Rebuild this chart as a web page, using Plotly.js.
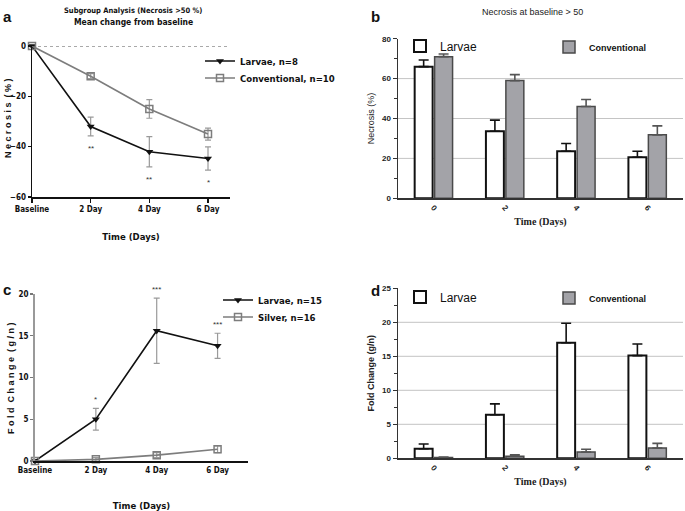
<!DOCTYPE html>
<html><head><meta charset="utf-8">
<script src="https://cdn.plot.ly/plotly-3.0.1.min.js"></script>
<style>html,body{margin:0;padding:0;background:#fff}#g{width:685px;height:511px}</style>
</head><body><div id="g"></div>
<script>
// ---- data ----
const daysA = ['Baseline','2 Day','4 Day','6 Day'];
const larvaeA = [0, -32, -42, -44.7];
const larvaeAErr = [0, 3.7, 6, 4.6];
const convA = [0, -12, -25, -35];
const convAErr = [0, 1, 3.7, 2.4];
const starsA = ['', '**', '**', '*'];

const daysB = ['0','2','4','6'];
const larvaeB = [66, 33.6, 23.6, 20.6];
const larvaeBErr = [3.3, 5.6, 3.9, 3];
const convB = [71, 59, 46, 31.8];
const convBErr = [1.3, 3, 3.5, 4.5];

const daysC = ['Baseline','2 Day','4 Day','6 Day'];
const larvaeC = [0, 5.0, 15.6, 13.8];
const larvaeCErr = [0, 1.3, 3.9, 1.5];
const silverC = [0, 0.2, 0.7, 1.4];
const silverCErr = [0, 0.2, 0.3, 0.4];
const starsC = ['', '*', '***', '***'];

const daysD = ['0','2','4','6'];
const larvaeD = [1.4, 6.4, 17.0, 15.1];
const larvaeDErr = [0.7, 1.6, 2.85, 1.7];
const convD = [0.1, 0.3, 0.93, 1.5];
const convDErr = [0.1, 0.2, 0.4, 0.7];

// ---- helpers ----
const W = 685, H = 511;
const px = v => v / W;
const py = v => 1 - v / H;
const NARROW = '"Liberation Sans Narrow", "DejaVu Sans Condensed", "Arial Narrow", sans-serif';
const SANS = '"Liberation Sans", Arial, sans-serif';
const SERIF = '"Liberation Serif", "Times New Roman", serif';
const zeros = n => new Array(n).fill(0);

const errLine = (arr) => ({type:'data', array:arr, visible:true, color:'#9a9a9a', thickness:1.2, width:3});
const errUp = (arr, col) => ({type:'data', symmetric:false, array:arr, arrayminus:zeros(arr.length), visible:true, color:col, thickness:1.6, width:5});

const traces = [
  // panel a
  {x: daysA, y: larvaeA, error_y: errLine(larvaeAErr), type:'scatter', mode:'lines+markers', name:'Larvae, n=8',
   line:{color:'#111', width:1.6}, marker:{symbol:'triangle-down', size:7, color:'#111'}, cliponaxis:false,
   xaxis:'x', yaxis:'y', legend:'legend', showlegend:true},
  {x: daysA, y: convA, error_y: errLine(convAErr), type:'scatter', mode:'lines+markers', name:'Conventional, n=10',
   line:{color:'#7d7d7d', width:1.6}, marker:{symbol:'square-open', size:7, color:'#7d7d7d', line:{width:1.5}}, cliponaxis:false,
   xaxis:'x', yaxis:'y', legend:'legend2', showlegend:true},
  // panel b
  {x: daysB, y: larvaeB, error_y: errUp(larvaeBErr, '#111'), type:'bar', name:'Larvae',
   marker:{color:'#fff', line:{color:'#111', width:2}}, xaxis:'x2', yaxis:'y2', legend:'legend3', showlegend:true},
  {x: daysB, y: convB, error_y: errUp(convBErr, '#555'), type:'bar', name:'Conventional',
   marker:{color:'#a3a3a8', line:{color:'#4a4a4a', width:1.5}}, xaxis:'x2', yaxis:'y2', legend:'legend4', showlegend:true},
  // panel c
  {x: daysC, y: larvaeC, error_y: errLine(larvaeCErr), type:'scatter', mode:'lines+markers', name:'Larvae, n=15',
   line:{color:'#111', width:1.6}, marker:{symbol:'triangle-down', size:7, color:'#111'}, cliponaxis:false,
   xaxis:'x3', yaxis:'y3', legend:'legend5', showlegend:true},
  {x: daysC, y: silverC, error_y: errLine(silverCErr), type:'scatter', mode:'lines+markers', name:'Silver, n=16',
   line:{color:'#7d7d7d', width:1.6}, marker:{symbol:'square-open', size:7, color:'#7d7d7d', line:{width:1.5}}, cliponaxis:false,
   xaxis:'x3', yaxis:'y3', legend:'legend6', showlegend:true},
  // panel d
  {x: daysD, y: larvaeD, error_y: errUp(larvaeDErr, '#111'), type:'bar', name:'Larvae',
   marker:{color:'#fff', line:{color:'#111', width:2}}, xaxis:'x4', yaxis:'y4', legend:'legend7', showlegend:true},
  {x: daysD, y: convD, error_y: errUp(convDErr, '#555'), type:'bar', name:'Conventional',
   marker:{color:'#a3a3a8', line:{color:'#4a4a4a', width:1.5}}, xaxis:'x4', yaxis:'y4', legend:'legend8', showlegend:true}
];

const tfA = {family: NARROW, size: 8, color:'#111', weight: 'bold'};
const tfB = {family: SANS, size: 8, color:'#222', weight: 'bold'};

const lineAx = (extra) => Object.assign({showline:true, linecolor:'#111', linewidth:1.5, ticks:'outside', ticklen:4, tickwidth:1.2,
  tickcolor:'#111', showgrid:false, zeroline:false, fixedrange:true}, extra);

const legBase = (x, y, size, fam, weight) => ({x:px(x), y:py(y), xanchor:'left', yanchor:'middle', bgcolor:'rgba(0,0,0,0)',
  borderwidth:0, font:{family:fam, size:size, color:'#111', weight:weight}, itemwidth:30, visible:true});

const pAnn = (text, x, y, font, extra) => Object.assign({text, x:px(x), y:py(y), xref:'paper', yref:'paper', showarrow:false,
  xanchor:'center', yanchor:'middle', font}, extra || {});
const annotations = [
  pAnn('<b>a</b>', 7, 17, {family:SANS, size:15, color:'#111'}),
  pAnn('<b>b</b>', 375, 17, {family:SANS, size:15, color:'#111'}),
  pAnn('<b>c</b>', 7, 289, {family:SANS, size:15, color:'#111'}),
  pAnn('<b>d</b>', 375, 290, {family:SANS, size:15, color:'#111'}),
  pAnn('Subgroup Analysis (Necrosis >50 %)', 133, 10, {family:NARROW, size:7.5, color:'#111', weight:'bold'}),
  pAnn('Mean change from baseline', 133, 22, {family:NARROW, size:8.5, color:'#111', weight:'bold'}),
  pAnn('Necrosis at baseline > 50', 532, 12, {family:SANS, size:9, color:'#222'}),
  pAnn('N e c r o s i s  ( % )', 8, 118, {family:SANS, size:9, color:'#111', weight:'bold'}, {textangle:-90}),
  pAnn('F o l d  C h a n g e  ( g / n )', 11, 378, {family:SANS, size:9, color:'#111', weight:'bold'}, {textangle:-90})
];
daysA.forEach((d, i) => { if (starsA[i]) annotations.push({text:starsA[i], x:d, y:larvaeA[i]-larvaeAErr[i]-2.5, xref:'x', yref:'y',
  yanchor:'top', showarrow:false, font:{family:SANS, size:8, color:'#333'}}); });
daysC.forEach((d, i) => { if (starsC[i]) annotations.push({text:starsC[i], x:d, y:larvaeC[i]+larvaeCErr[i]+0.3, xref:'x3', yref:'y3',
  yanchor:'bottom', showarrow:false, font:{family:SANS, size:8, color:'#333'}}); });

const gridShape = (yr, xr, v) => ({type:'line', xref:xr + ' domain', yref:yr, x0:0, x1:1, y0:v, y1:v, line:{color:'#c4c4c4', width:1}, layer:'below'});
const shapes = [
  {type:'line', xref:'x domain', yref:'y', x0:0, x1:1, y0:0, y1:0, line:{color:'#555', width:1, dash:'dot'}},
  ...[20,40,60].map(v => gridShape('y2','x2',v)),
  ...[5,10,15,20].map(v => gridShape('y4','x4',v))
];

const layout = {
  width: W, height: H, margin:{l:0, r:0, t:0, b:0}, paper_bgcolor:'#fff', plot_bgcolor:'rgba(0,0,0,0)',
  showlegend: true,
  barmode:'group', bargap:0.44, bargroupgap:0.1,
  xaxis: lineAx({domain:[px(32), px(230)], type:'category', categoryorder:'array', categoryarray:daysA, range:[0, 3.375],
    tickfont:tfA, title:{text:'Time (Days)', font:{family:NARROW, size:9.5, color:'#111', weight:'bold'}, standoff:20}, anchor:'y'}),
  yaxis: lineAx({domain:[py(197), py(46)], range:[-60, 0], tickvals:[-60,-40,-20,0], tickfont:tfA, ticklen:3, anchor:'x'}),
  xaxis2: lineAx({domain:[px(398), px(683)], type:'category', categoryorder:'array', categoryarray:daysB, range:[-0.5, 3.5],
    linecolor:'#333', tickcolor:'#333', ticks:'', tickfont:tfB, tickangle:50,
    title:{text:'<b>Time (Days)</b>', font:{family:SERIF, size:10, color:'#222'}, standoff:6}, anchor:'y2'}),
  yaxis2: lineAx({domain:[py(198.3), py(38.7)], range:[0, 80], tickvals:[0,20,40,60,80], tickfont:tfB, linecolor:'#333', tickcolor:'#333',
    minor:{tickvals:[10,30,50,70], ticks:'outside', ticklen:3, tickcolor:'#333'},
    title:{text:'Necrosis (%)', font:{family:SANS, size:9, color:'#222'}, standoff:6}, anchor:'x2'}),
  xaxis3: lineAx({domain:[px(35), px(248)], type:'category', categoryorder:'array', categoryarray:daysC, range:[0, 3.5],
    linewidth:2.2, ticks:'', tickfont:tfA, title:{text:'Time (Days)', font:{family:NARROW, size:9.5, color:'#111', weight:'bold'}, standoff:30}, anchor:'y3'}),
  yaxis3: lineAx({domain:[py(461), py(294)], range:[0, 20], tickvals:[0,5,10,15,20], tickfont:tfA, ticklen:3, linecolor:'#999', linewidth:2,
    tickcolor:'#777', anchor:'x3'}),
  xaxis4: lineAx({domain:[px(398), px(683)], type:'category', categoryorder:'array', categoryarray:daysD, range:[-0.5, 3.5],
    linecolor:'#333', tickcolor:'#333', ticks:'', tickfont:tfB, tickangle:50,
    title:{text:'<b>Time (Days)</b>', font:{family:SERIF, size:10, color:'#222'}, standoff:6}, anchor:'y4'}),
  yaxis4: lineAx({domain:[py(458.3), py(288.3)], range:[0, 25], tickvals:[0,5,10,15,20,25], tickfont:tfB, linecolor:'#333', tickcolor:'#333',
    minor:{tickvals:[2.5,7.5,12.5,17.5,22.5], ticks:'outside', ticklen:3, tickcolor:'#333'},
    title:{text:'Fold Change (g/n)', font:{family:SANS, size:9, color:'#222', weight:'bold'}, standoff:6}, anchor:'x4'}),
  legend: legBase(200, 61, 9.5, NARROW, 'bold'),
  legend2: legBase(200, 78, 9.5, NARROW, 'bold'),
  legend3: legBase(400, 46, 12, SANS, 'normal'),
  legend4: legBase(549, 47, 9, SANS, 'bold'),
  legend5: legBase(218, 300, 9.5, NARROW, 'bold'),
  legend6: legBase(218, 317, 9.5, NARROW, 'bold'),
  legend7: legBase(400, 297, 12, SANS, 'normal'),
  legend8: legBase(549, 298, 9, SANS, 'bold'),
  annotations, shapes
};

Plotly.newPlot('g', traces, layout, {staticPlot:true, displayModeBar:false});
</script></body></html>
